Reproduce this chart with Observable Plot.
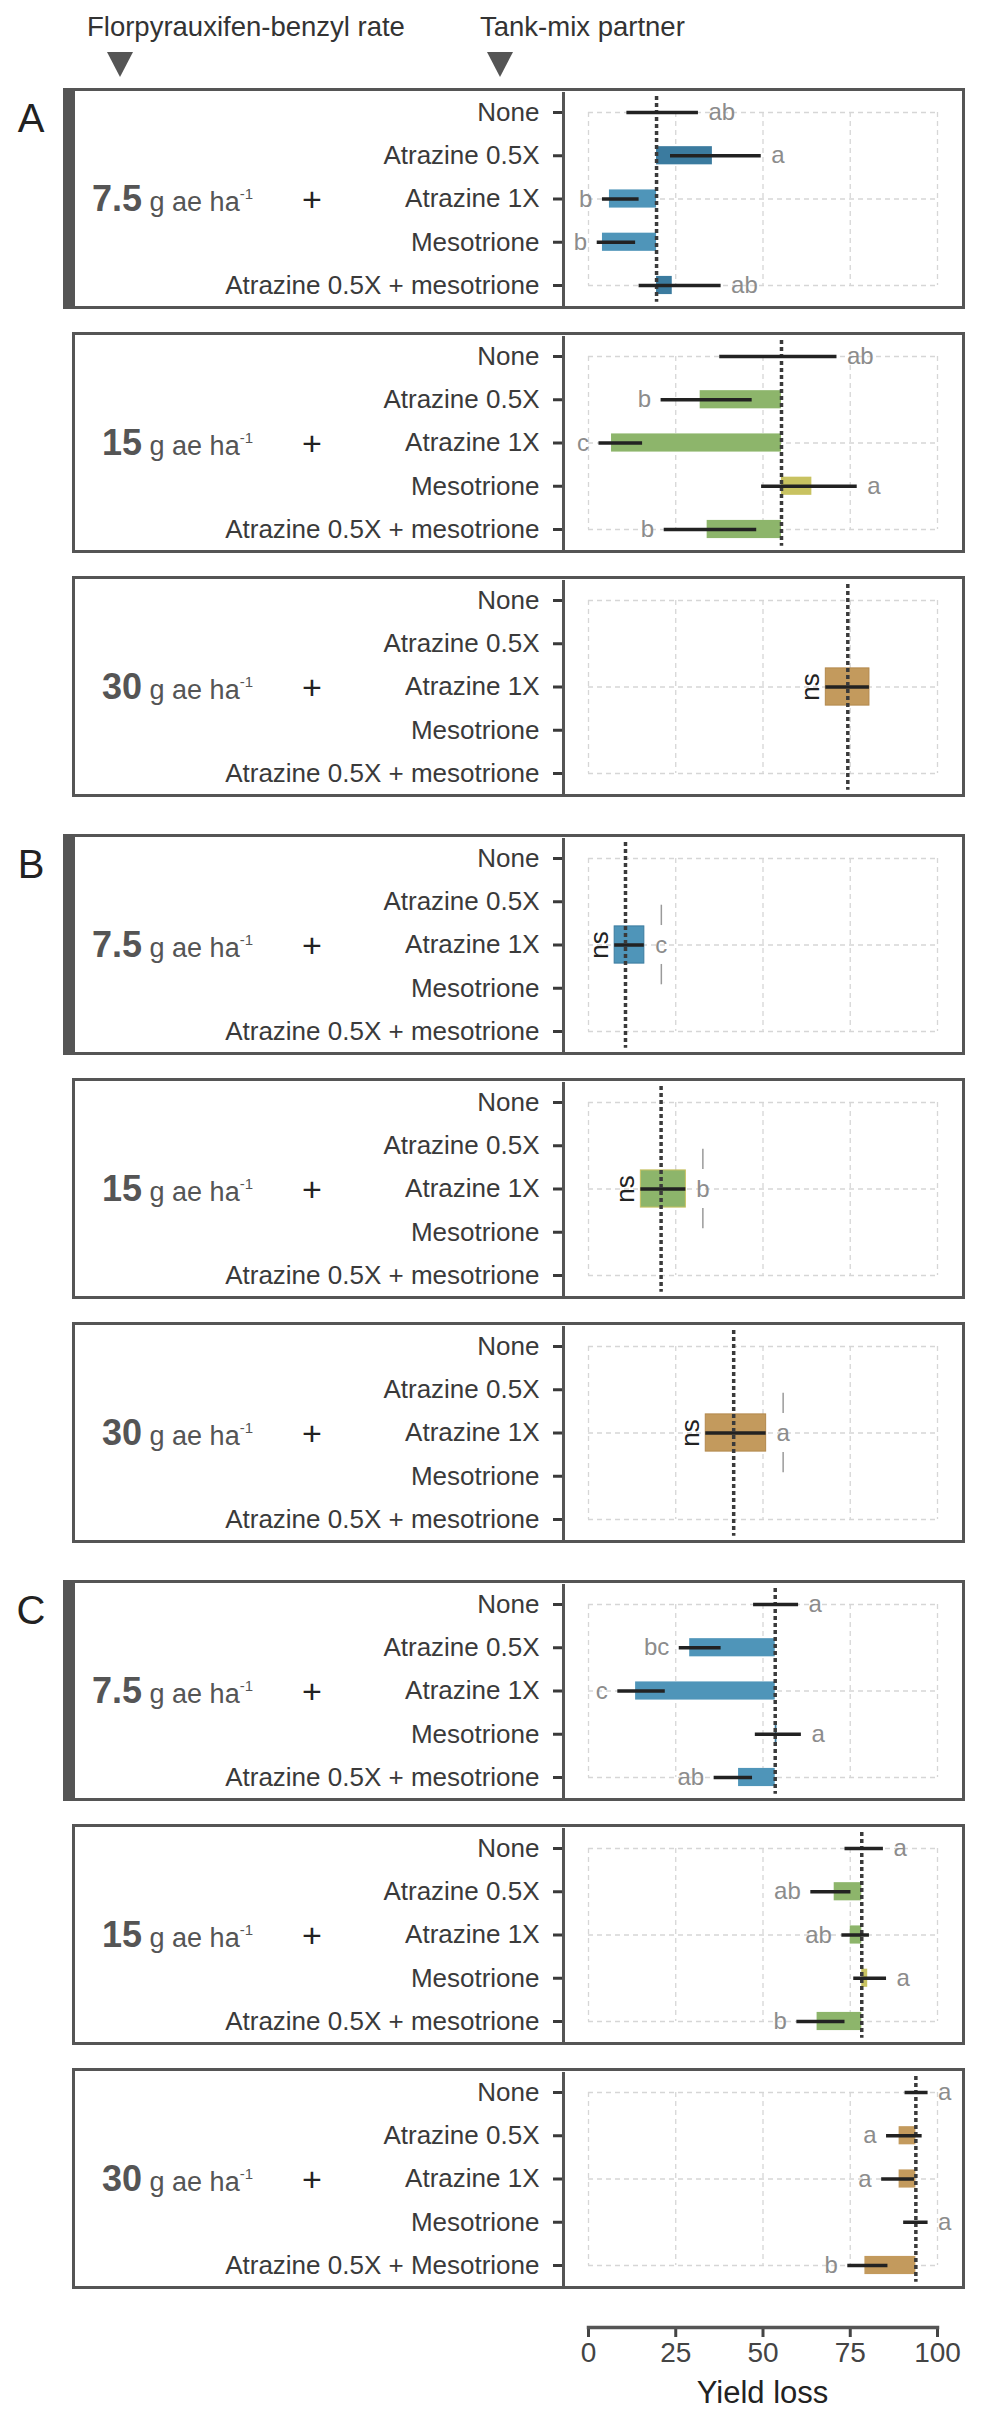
<!DOCTYPE html>
<html><head><meta charset="utf-8">
<script src="https://cdn.jsdelivr.net/npm/d3@7"></script>
<script src="https://cdn.jsdelivr.net/npm/@observablehq/plot@0.6"></script>
<style>
body{margin:0;background:#fff;font-family:"Liberation Sans",Arial,sans-serif;}
#root{position:relative;width:982px;height:2416px;overflow:hidden;background:#fff;}
.abs{position:absolute;white-space:nowrap;}
.box{position:absolute;border:3px solid #555;box-sizing:border-box;}
.rate{position:absolute;left:0;width:253px;text-align:right;color:#555;transform:translateY(-50%);line-height:1;}
.rate b{font-size:36px;}
.rate span{font-size:27px;}
.rate sup{font-size:15px;vertical-align:12px;}
.plus{position:absolute;left:312px;transform:translate(-50%,-50%);font-size:34px;color:#222;line-height:1;}
.plabel{position:absolute;left:31px;transform:translate(-50%,-50%);font-size:40px;color:#222;line-height:1;}
svg.plot{position:absolute;left:0;overflow:visible;}
</style></head><body><div id="root"></div>
<script>
// ---------------- data ----------------
const groups = ["A", "B", "C"];
const rates = ["7.5", "15", "30"];
const partners = ["None", "Atrazine 0.5X", "Atrazine 1X", "Mesotrione", "Atrazine 0.5X + mesotrione"];
const partnersC3 = ["None", "Atrazine 0.5X", "Atrazine 1X", "Mesotrione", "Atrazine 0.5X + Mesotrione"];
const xTicks = [0, 25, 50, 75, 100];

// rows: treatment mean (bar drawn from the reference to the mean), lower/upper limits, letters
const a1Ref = 19.5;
const a1Mean = [19.5, 35.5, 6, 4, 24];
const a1Lo = [11, 23.5, 4, 2.5, 14.5];
const a1Hi = [31.5, 49.5, 14.5, 13.5, 38];
const a1Let = ["ab", "a", "b", "b", "ab"];

const a2Ref = 55.3;
const a2Mean = [55.3, 32, 6.6, 64, 34];
const a2Lo = [37.6, 20.8, 3, 49.6, 21.7];
const a2Hi = [71.2, 46.9, 15.5, 77, 48.2];
const a2Let = ["ab", "b", "c", "a", "b"];

// single-treatment panels (Atrazine 1X only): reference = mean, lower, upper
const a3Ref = 74.3, a3Lo = 68, a3Hi = 80.5;
const b1Ref = 10.6, b1Lo = 7.5, b1Hi = 16, b1Let = "c";
const b2Ref = 20.8, b2Lo = 15, b2Hi = 27.9, b2Let = "b";
const b3Ref = 41.6, b3Lo = 33.6, b3Hi = 50.9, b3Let = "a";

const c1Ref = 53.5;
const c1Mean = [53.5, 29, 13.5, 54, 43];
const c1Lo = [47.3, 26, 8.4, 47.8, 36];
const c1Hi = [60.2, 38, 22, 61, 47];
const c1Let = ["a", "bc", "c", "a", "ab"];

const c2Ref = 78.3;
const c2Mean = [78.3, 70.4, 75, 80, 65.5];
const c2Lo = [73.5, 63.7, 72.6, 76, 59.7];
const c2Hi = [84.5, 75.2, 80.5, 85.4, 73.5];
const c2Let = ["a", "ab", "ab", "a", "b"];

const c3Ref = 93.8;
const c3Mean = [93.8, 89, 89, 93.8, 79.2];
const c3Lo = [90.7, 85.4, 84, 90.3, 74.3];
const c3Hi = [97.3, 95.6, 93.4, 97.3, 85.8];
const c3Let = ["a", "a", "a", "a", "b"];

// ---------------- layout / style ----------------
const W = 982, PH = 221, STEP = 244;
const groupTops = [88, 834, 1580];
const X0 = 588, X1 = 937;
const BOX_L = 72, BOX_R = 965;
const hues = [["#4f95b9", "#3b7b9f"], ["#8db56b", "#c8c261"], ["#c39a5d", "#b3884c"]];
const FONT = "Liberation Sans, Arial, sans-serif";
const root = document.getElementById("root");

function el(html) { const d = document.createElement("div"); d.innerHTML = html; return d.firstElementChild; }

function baseMarks(labels) {
  return [
    Plot.ruleX(xTicks, {y1: 0, y2: 4, stroke: "#d6d6d6", strokeWidth: 1.3, strokeDasharray: "5,4"}),
    Plot.ruleY([0, 2, 4], {x1: 0, x2: 100, stroke: "#d6d6d6", strokeWidth: 1.3, strokeDasharray: "5,4"}),
    Plot.axisY({ticks: [0, 1, 2, 3, 4], tickFormat: i => labels[i], tickSize: 10, tickPadding: 14,
      fontSize: 26, color: "#3a3a3a", strokeWidth: 3, label: null}),
    Plot.frame({anchor: "left", stroke: "#555", strokeWidth: 3})
  ];
}
function refLine(ref) {
  return Plot.ruleX([ref], {y1: -0.37, y2: 4.39, stroke: "#3a3a3a", strokeWidth: 3.5, strokeDasharray: "4,3"});
}

function barPanel(labels, ref, mean, lo, hi, letters, hue) {
  const rows = labels.map((name, i) => ({i, mean: mean[i], lo: lo[i], hi: hi[i], letter: letters[i]}));
  const lower = rows.filter(d => d.mean < ref - 0.01);
  const upper = rows.filter(d => !(d.mean < ref - 0.01));
  return [
    ...baseMarks(labels),
    Plot.rect(rows.filter(d => Math.abs(d.mean - ref) > 0.01), {
      x1: () => ref, x2: "mean", y1: d => d.i - 0.21, y2: d => d.i + 0.21,
      fill: d => d.mean > ref ? hue[1] : hue[0]}),
    refLine(ref),
    Plot.ruleY(rows, {y: "i", x1: "lo", x2: "hi", stroke: "#222", strokeWidth: 3.5}),
    Plot.text(upper, {x: "hi", y: "i", text: "letter", dx: 10, textAnchor: "start", fill: "#8c8c8c", fontSize: 24}),
    Plot.text(lower, {x: d => Math.min(d.lo, d.mean), y: "i", text: "letter", dx: -10, textAnchor: "end", fill: "#8c8c8c", fontSize: 24})
  ];
}

function singlePanel(labels, ref, lo, hi, letter, hue) {
  const row = [{i: 2, ref, lo, hi, letter}];
  const marks = [
    ...baseMarks(labels),
    Plot.rect(row, {x1: "lo", x2: "hi", y1: d => d.i - 0.43, y2: d => d.i + 0.43, fill: hue[0], stroke: hue[1], strokeWidth: 1}),
    Plot.ruleY(row, {y: "i", x1: "lo", x2: "hi", stroke: "#222", strokeWidth: 3.5}),
    refLine(ref),
    Plot.text(row, {x: "lo", y: "i", text: () => "ns", rotate: -90, dx: -7, lineAnchor: "bottom", textAnchor: "middle", fill: "#222", fontSize: 26})
  ];
  if (letter) {
    marks.push(
      Plot.text(row, {x: "hi", y: "i", text: "letter", dx: 17, textAnchor: "middle", fill: "#8c8c8c", fontSize: 24}),
      Plot.ruleX(row, {x: "hi", dx: 17, y1: d => d.i - 0.92, y2: d => d.i - 0.45, stroke: "#9a9a9a", strokeWidth: 1.5}),
      Plot.ruleX(row, {x: "hi", dx: 17, y1: d => d.i + 0.45, y2: d => d.i + 0.92, stroke: "#9a9a9a", strokeWidth: 1.5})
    );
  }
  return marks;
}

const panels = [
  [barPanel(partners, a1Ref, a1Mean, a1Lo, a1Hi, a1Let, hues[0]),
   barPanel(partners, a2Ref, a2Mean, a2Lo, a2Hi, a2Let, hues[1]),
   singlePanel(partners, a3Ref, a3Lo, a3Hi, null, hues[2])],
  [singlePanel(partners, b1Ref, b1Lo, b1Hi, b1Let, hues[0]),
   singlePanel(partners, b2Ref, b2Lo, b2Hi, b2Let, hues[1]),
   singlePanel(partners, b3Ref, b3Lo, b3Hi, b3Let, hues[2])],
  [barPanel(partners, c1Ref, c1Mean, c1Lo, c1Hi, c1Let, hues[0]),
   barPanel(partners, c2Ref, c2Mean, c2Lo, c2Hi, c2Let, hues[1]),
   barPanel(partnersC3, c3Ref, c3Mean, c3Lo, c3Hi, c3Let, hues[2])]
];

// header
root.appendChild(el(`<div class="abs" style="left:87px;top:13px;font-size:27.5px;color:#333;line-height:1;">Florpyrauxifen-benzyl rate</div>`));
root.appendChild(el(`<div class="abs" style="left:480px;top:13px;font-size:27.5px;color:#333;line-height:1;">Tank-mix partner</div>`));
root.appendChild(el(`<svg class="abs" style="left:0;top:0" width="982" height="90"><polygon points="107,52 133,52 120,77" fill="#555"/><polygon points="487,52 513,52 500,77" fill="#555"/></svg>`));

groups.forEach((g, gi) => {
  const gTop = groupTops[gi];
  root.appendChild(el(`<div class="plabel" style="top:${gTop + 30}px">${g}</div>`));
  root.appendChild(el(`<div class="abs" style="left:63px;top:${gTop}px;width:10px;height:${PH}px;background:#555"></div>`));
  rates.forEach((r, ri) => {
    const top = gTop + ri * STEP;
    root.appendChild(el(`<div class="box" style="left:${BOX_L}px;top:${top}px;width:${BOX_R - BOX_L}px;height:${PH}px"></div>`));
    const svg = Plot.plot({
      width: W, height: PH,
      marginLeft: 563, marginRight: W - X1, marginTop: 5, marginBottom: 4,
      x: {domain: [0, 100], range: [X0, X1], axis: null},
      y: {domain: [-0.555, 4.555], range: [0, PH]},
      style: {fontFamily: FONT, background: "transparent", overflow: "visible"},
      marks: panels[gi][ri]
    });
    svg.classList.add("plot");
    svg.style.top = top + "px";
    root.appendChild(svg);
    const cy = top + 24 + 2 * 43.25;
    root.appendChild(el(`<div class="rate" style="top:${cy}px"><b>${r}</b><span> g ae ha<sup>-1</sup></span></div>`));
    root.appendChild(el(`<div class="plus" style="top:${cy}px">+</div>`));
  });
});

// bottom x axis
const axisSvg = Plot.plot({
  width: W, height: 80,
  marginLeft: X0, marginRight: W - X1, marginTop: 0, marginBottom: 63,
  x: {domain: [0, 100]},
  style: {fontFamily: FONT, background: "transparent", overflow: "visible"},
  marks: [
    Plot.axisX({ticks: xTicks, tickSize: 10, tickPadding: 5, fontSize: 28, color: "#444", strokeWidth: 3, label: null}),
    Plot.frame({anchor: "bottom", stroke: "#555", strokeWidth: 3.5})
  ]
});
axisSvg.classList.add("plot");
axisSvg.style.top = "2310px";
root.appendChild(axisSvg);
root.appendChild(el(`<div class="abs" style="left:${(X0 + X1) / 2}px;top:2392px;transform:translate(-50%,-50%);font-size:31px;color:#222;line-height:1;">Yield loss</div>`));
</script></body></html>
